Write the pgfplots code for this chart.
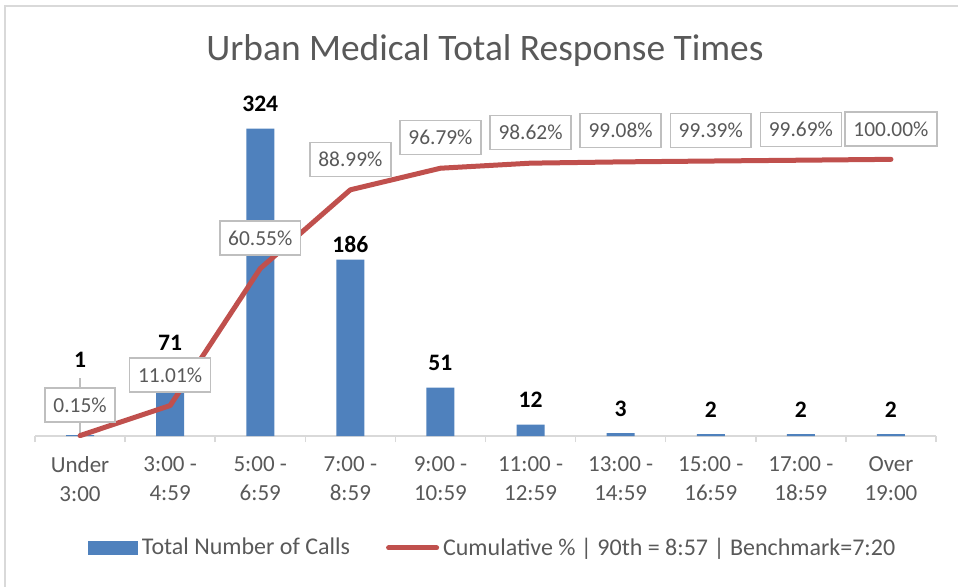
\documentclass[border=0pt]{standalone}
\usepackage{pgfplots}
\pgfplotsset{compat=1.18}
\usepackage{fontspec}
\setmainfont{Carlito}
\definecolor{barblue}{HTML}{4F81BD}
\definecolor{linered}{HTML}{C0504D}
\definecolor{txtgray}{HTML}{595959}
\definecolor{axgray}{HTML}{D9D9D9}
\definecolor{boxgray}{HTML}{BFBFBF}
\begin{document}
\begin{tikzpicture}
\useasboundingbox (0,0) rectangle (479pt,-293pt);
\begin{scope}
\clip (0,0) rectangle (479pt,-293pt);
\draw[axgray, line width=1.25pt] (2.4pt,-3pt) rectangle (490pt,-300pt);
\end{scope}
\node[txtgray, font=\fontsize{18.7}{22}\selectfont] at (242.5pt,-25.5pt) {Urban Medical Total Response Times};
\begin{axis}[
  at={(17.5pt,-218pt)}, anchor=south west,
  scale only axis, width=450.5pt, height=166pt,
  xmin=-0.5, xmax=9.5, ymin=0, ymax=350,
  axis y line=none, axis x line*=bottom,
  x axis line style={-, draw=axgray, line width=0.75pt},
  xtick={0,...,9},
  xticklabels={{Under\\3:00},{3:00 -\\4:59},{5:00 -\\6:59},{7:00 -\\8:59},{9:00 -\\10:59},{11:00 -\\12:59},{13:00 -\\14:59},{15:00 -\\16:59},{17:00 -\\18:59},{Over\\19:00}},
  major x tick style={draw=none},
  minor xtick={-0.5,0.5,...,9.5},
  minor x tick style={draw=axgray, line width=0.75pt},
  tick align=outside, minor tick length=3pt, major tick length=0pt,
  xticklabel style={align=center, text=txtgray, font=\fontsize{11.5}{14.5}\selectfont, yshift=-6.5pt},
  legend style={at={(0.509,-0.337)}, anchor=center, draw=none, fill=none,
    legend columns=2, font=\fontsize{12}{14}\selectfont, text=txtgray,
    /tikz/every even column/.append style={column sep=16pt},
    /tikz/every odd column/.append style={},
    legend cell align=left},
  clip=false,
]
\addplot[ybar, bar width=14pt, fill=barblue, draw=none,
  legend image code/.code={\fill[barblue] (0pt,-3.5pt) rectangle (25pt,3.5pt);}]
  coordinates {(0,1) (1,71) (2,324) (3,186) (4,51) (5,12) (6,3) (7,2) (8,2) (9,2)};
\addlegendentry{Total Number of Calls}
\addlegendimage{legend image code/.code={\draw[linered, line width=2.5pt, line cap=round] (1pt,0pt) -- (25pt,0pt);}}
\addlegendentry{Cumulative \% | 90th = 8:57 | Benchmark=7:20}
% bar value labels (x, label position, value)
\addplot[draw=none, forget plot, nodes near coords={\pgfmathprintnumber[fixed,precision=0,assume math mode=true]{\pgfplotspointmeta}},
  point meta=\thisrow{val},
  every node near coord/.append style={anchor=center, text=black, font=\bfseries\fontsize{11.8}{14}\selectfont}]
  table {
x pos val
0 80.2 1
1 98.1 71
2 350.2 324
3 201.5 186
4 77.0 51
5 38.0 12
6 28.5 3
7 27.4 2
8 27.4 2
9 27.4 2
};
\end{axis}
\begin{axis}[
  at={(17.5pt,-218pt)}, anchor=south west,
  scale only axis, width=450.5pt, height=166pt,
  xmin=-0.5, xmax=9.5, ymin=0, ymax=120,
  hide axis, clip=false,
]
\draw[boxgray, line width=0.75pt] (axis cs:0,20.9) -- (axis cs:0,0);
\addplot[linered, line width=2.5pt, line join=round, line cap=round]
  coordinates {(0,0.15) (1,11.01) (2,60.55) (3,88.99) (4,96.79) (5,98.62) (6,99.08) (7,99.39) (8,99.69) (9,100.00)};
\addplot[draw=none, nodes near coords={\pgfmathprintnumber[fixed,fixed zerofill,precision=2,assume math mode=true]{\pgfplotspointmeta}\%},
  point meta=\thisrow{val},
  every node near coord/.append style={anchor=center, text=txtgray, draw=boxgray, line width=0.75pt, fill=white,
    inner xsep=4.2pt, inner ysep=0pt, minimum height=17pt, font=\fontsize{10.7}{12}\selectfont}]
  table {
x pos val
0 11.2 0.15
1 22.0 11.01
2 71.5 60.55
3 100.0 88.99
4 107.9 96.79
5 109.7 98.62
6 110.5 99.08
7 110.5 99.39
8 110.8 99.69
9 111.0 100.00
};
\end{axis}
\end{tikzpicture}
\end{document}
